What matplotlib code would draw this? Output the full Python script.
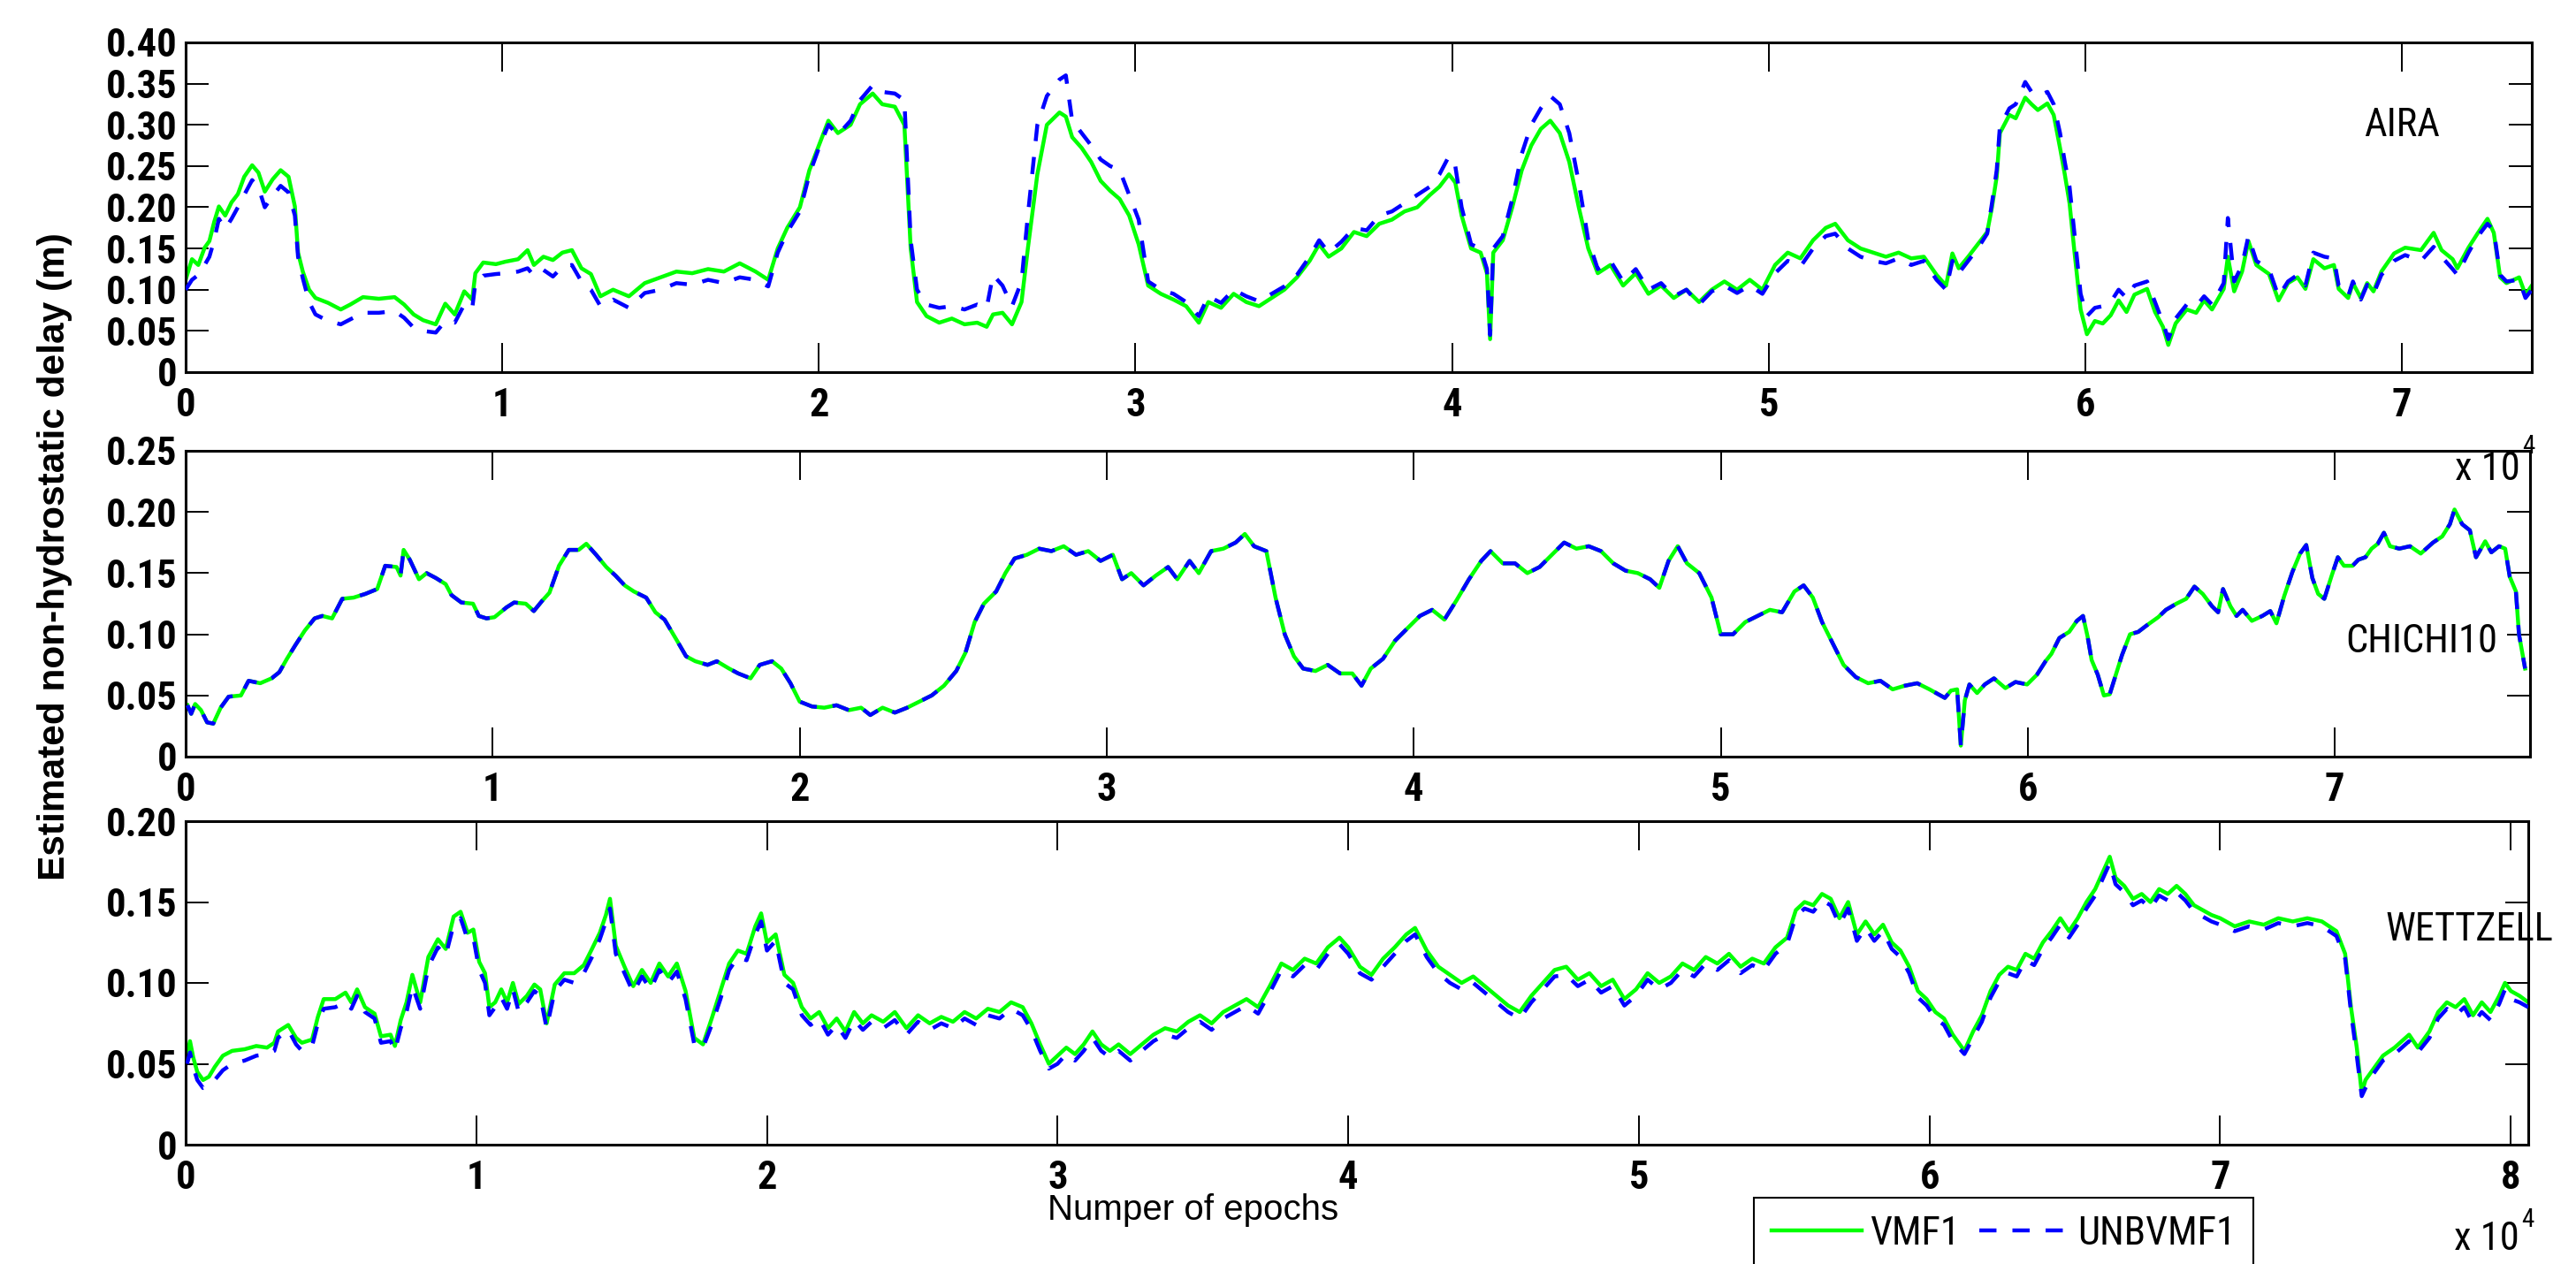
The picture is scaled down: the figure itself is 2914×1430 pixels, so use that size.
import os
import matplotlib
matplotlib.use("Agg")
import matplotlib.pyplot as plt
import matplotlib.font_manager as fm
from matplotlib.font_manager import FontProperties
from matplotlib.lines import Line2D


def find_narrow_font(bold=False):
    """Return the path of a narrow / condensed sans font if one is installed."""
    entries = fm.fontManager.ttflist
    want_w = 700 if bold else 400

    def wok(f):
        try:
            w = int(f.weight)
        except (TypeError, ValueError):
            w = 700 if 'bold' in str(f.weight).lower() else 400
        return abs(w - want_w) <= 100

    for fam in ['Liberation Sans Narrow', 'Arial Narrow', 'Nimbus Sans Narrow', 'Roboto Condensed',
                'Open Sans Condensed', 'Noto Sans Condensed', 'DejaVu Sans Condensed']:
        for f in entries:
            if f.name == fam and f.style == 'normal' and wok(f):
                return f.fname
    for fam in ['Noto Sans', 'Roboto', 'Open Sans', 'DejaVu Sans', 'Lato', 'Inter']:
        for f in entries:
            if f.name == fam and f.style == 'normal' and wok(f) and \
                    str(f.stretch) in ('condensed', 'semi-condensed', 'extra-condensed'):
                return f.fname
    for f in entries:
        b = os.path.basename(f.fname).lower()
        if ('narrow' in b or 'condensed' in b) and 'italic' not in b and 'oblique' not in b \
                and 'mono' not in b and 'serif' not in b and wok(f):
            return f.fname
    return None


NARROW_BOLD = find_narrow_font(bold=True)
NARROW_REG = find_narrow_font(bold=False)
NARROW_BOLD = NARROW_BOLD or NARROW_REG
NARROW_REG = NARROW_REG or NARROW_BOLD
plt.rcParams['font.family'] = ['Liberation Sans', 'DejaVu Sans']
plt.rcParams['lines.scale_dashes'] = False


def nfont(size, bold=False):
    path = NARROW_BOLD if bold else NARROW_REG
    if path:
        return FontProperties(fname=path, size=size)
    return FontProperties(family=['Liberation Sans', 'DejaVu Sans'], size=size,
                          weight='bold' if bold else 'normal')


# ---------------- data (x in units of 1e4 epochs, delay in m) ----------------
aira_x = [0.00, 0.02, 0.04, 0.06, 0.075, 0.09, 0.105, 0.125, 0.145, 0.165, 0.185, 0.21, 0.23, 0.25, 0.275,
          0.30, 0.325, 0.345, 0.355, 0.37, 0.39, 0.41, 0.45, 0.49, 0.52, 0.56, 0.61, 0.66, 0.69, 0.72, 0.75,
          0.79, 0.82, 0.85, 0.88, 0.905, 0.915, 0.94, 0.98, 1.01, 1.05, 1.08, 1.10, 1.13, 1.16, 1.19, 1.22,
          1.25, 1.28, 1.31, 1.35, 1.40, 1.45, 1.50, 1.55, 1.60, 1.65, 1.70, 1.75, 1.80, 1.84, 1.87, 1.90,
          1.94, 1.97, 2.00, 2.03, 2.06, 2.10, 2.13, 2.17, 2.20, 2.24, 2.27, 2.29, 2.31, 2.34, 2.38, 2.42,
          2.46, 2.50, 2.53, 2.55, 2.58, 2.61, 2.64, 2.66, 2.69, 2.72, 2.76, 2.78, 2.80, 2.83, 2.86, 2.89,
          2.92, 2.95, 2.98, 3.01, 3.04, 3.08, 3.12, 3.16, 3.20, 3.23, 3.27, 3.31, 3.35, 3.39, 3.43, 3.47,
          3.51, 3.55, 3.58, 3.61, 3.65, 3.69, 3.73, 3.77, 3.81, 3.85, 3.89, 3.93, 3.96, 3.99, 4.01, 4.03,
          4.06, 4.09, 4.11, 4.12, 4.13, 4.16, 4.19, 4.22, 4.25, 4.28, 4.31, 4.34, 4.37, 4.40, 4.43, 4.46,
          4.50, 4.54, 4.58, 4.62, 4.66, 4.70, 4.74, 4.78, 4.82, 4.86, 4.90, 4.94, 4.98, 5.02, 5.06, 5.10,
          5.14, 5.18, 5.21, 5.25, 5.29, 5.33, 5.37, 5.41, 5.45, 5.49, 5.53, 5.56, 5.58, 5.60, 5.63, 5.66,
          5.69, 5.705, 5.72, 5.73, 5.76, 5.78, 5.81, 5.83, 5.85, 5.88, 5.90, 5.92, 5.935, 5.95, 5.965,
          5.985, 6.005, 6.03, 6.055, 6.08, 6.105, 6.13, 6.155, 6.195, 6.22, 6.245, 6.262, 6.285, 6.32,
          6.35, 6.375, 6.40, 6.437, 6.45, 6.47, 6.495, 6.515, 6.54, 6.58, 6.61, 6.64, 6.67, 6.695, 6.72,
          6.755, 6.785, 6.80, 6.83, 6.845, 6.87, 6.89, 6.91, 6.935, 6.975, 7.01, 7.06, 7.10, 7.125, 7.16,
          7.175, 7.21, 7.24, 7.27, 7.29, 7.31, 7.33, 7.37, 7.39, 7.41]
aira_vmf1 = [0.112, 0.137, 0.130, 0.151, 0.159, 0.182, 0.201, 0.190, 0.206, 0.216, 0.237, 0.251, 0.242, 0.219,
             0.234, 0.245, 0.237, 0.201, 0.145, 0.122, 0.100, 0.090, 0.084, 0.076, 0.082, 0.091, 0.089, 0.091,
             0.082, 0.070, 0.063, 0.058, 0.083, 0.070, 0.098, 0.088, 0.120, 0.133, 0.131, 0.134, 0.137, 0.148,
             0.130, 0.140, 0.136, 0.145, 0.148, 0.126, 0.119, 0.092, 0.100, 0.092, 0.108, 0.115, 0.122, 0.120,
             0.125, 0.122, 0.132, 0.122, 0.112, 0.150, 0.175, 0.200, 0.245, 0.275, 0.305, 0.290, 0.300, 0.325,
             0.338, 0.325, 0.322, 0.300, 0.150, 0.085, 0.068, 0.060, 0.065, 0.058, 0.060, 0.055, 0.070, 0.072,
             0.058, 0.085, 0.150, 0.240, 0.300, 0.315, 0.310, 0.285, 0.272, 0.255, 0.232, 0.220, 0.210, 0.190,
             0.155, 0.105, 0.095, 0.088, 0.080, 0.060, 0.085, 0.078, 0.095, 0.085, 0.080, 0.090, 0.100, 0.115,
             0.135, 0.155, 0.140, 0.150, 0.170, 0.165, 0.180, 0.185, 0.195, 0.200, 0.215, 0.225, 0.240, 0.230,
             0.190, 0.150, 0.145, 0.120, 0.040, 0.145, 0.160, 0.200, 0.245, 0.275, 0.295, 0.305, 0.290, 0.255,
             0.200, 0.150, 0.120, 0.130, 0.105, 0.120, 0.095, 0.105, 0.090, 0.100, 0.085, 0.100, 0.110, 0.100,
             0.112, 0.100, 0.130, 0.145, 0.138, 0.160, 0.175, 0.180, 0.160, 0.150, 0.145, 0.140, 0.145, 0.138,
             0.140, 0.118, 0.105, 0.144, 0.126, 0.140, 0.155, 0.170, 0.200, 0.237, 0.290, 0.312, 0.308, 0.333,
             0.325, 0.318, 0.326, 0.312, 0.272, 0.240, 0.205, 0.148, 0.076, 0.046, 0.062, 0.059, 0.069, 0.087,
             0.073, 0.094, 0.101, 0.073, 0.055, 0.033, 0.059, 0.076, 0.072, 0.087, 0.076, 0.101, 0.140, 0.098,
             0.122, 0.159, 0.130, 0.119, 0.087, 0.108, 0.115, 0.101, 0.137, 0.126, 0.130, 0.101, 0.090, 0.108,
             0.090, 0.108, 0.098, 0.122, 0.144, 0.151, 0.148, 0.169, 0.148, 0.137, 0.126, 0.151, 0.169, 0.186,
             0.169, 0.115, 0.108, 0.115, 0.094, 0.105]
aira_unbvmf1 = [0.100, 0.112, 0.118, 0.130, 0.140, 0.160, 0.186, 0.174, 0.186, 0.200, 0.215, 0.233, 0.224, 0.200,
                0.214, 0.226, 0.218, 0.190, 0.140, 0.114, 0.085, 0.070, 0.062, 0.058, 0.064, 0.072, 0.072, 0.074,
                0.066, 0.054, 0.050, 0.048, 0.062, 0.060, 0.082, 0.077, 0.108, 0.117, 0.119, 0.120, 0.122, 0.126,
                0.117, 0.124, 0.116, 0.128, 0.130, 0.110, 0.100, 0.080, 0.088, 0.078, 0.096, 0.100, 0.108, 0.106,
                0.112, 0.108, 0.115, 0.112, 0.104, 0.145, 0.170, 0.195, 0.240, 0.272, 0.300, 0.288, 0.305, 0.330,
                0.348, 0.340, 0.338, 0.330, 0.160, 0.100, 0.082, 0.078, 0.080, 0.076, 0.082, 0.078, 0.118, 0.105,
                0.080, 0.110, 0.190, 0.300, 0.335, 0.355, 0.360, 0.305, 0.290, 0.275, 0.258, 0.250, 0.245, 0.215,
                0.185, 0.110, 0.100, 0.095, 0.085, 0.068, 0.092, 0.084, 0.100, 0.092, 0.086, 0.095, 0.104, 0.118,
                0.140, 0.160, 0.145, 0.158, 0.175, 0.172, 0.190, 0.195, 0.205, 0.215, 0.225, 0.240, 0.262, 0.250,
                0.200, 0.155, 0.150, 0.125, 0.045, 0.150, 0.165, 0.210, 0.265, 0.300, 0.320, 0.335, 0.325, 0.290,
                0.230, 0.160, 0.125, 0.135, 0.110, 0.125, 0.100, 0.108, 0.092, 0.100, 0.082, 0.098, 0.105, 0.096,
                0.105, 0.095, 0.120, 0.135, 0.128, 0.150, 0.165, 0.168, 0.150, 0.140, 0.135, 0.132, 0.138, 0.130,
                0.135, 0.112, 0.100, 0.135, 0.120, 0.135, 0.150, 0.168, 0.205, 0.245, 0.298, 0.320, 0.325, 0.352,
                0.340, 0.335, 0.340, 0.325, 0.290, 0.255, 0.225, 0.170, 0.095, 0.068, 0.078, 0.080, 0.085, 0.100,
                0.090, 0.105, 0.110, 0.085, 0.060, 0.040, 0.065, 0.082, 0.080, 0.092, 0.082, 0.108, 0.187, 0.110,
                0.130, 0.165, 0.135, 0.125, 0.092, 0.110, 0.118, 0.105, 0.145, 0.140, 0.138, 0.105, 0.092, 0.110,
                0.088, 0.106, 0.095, 0.118, 0.135, 0.142, 0.135, 0.152, 0.140, 0.125, 0.118, 0.145, 0.165, 0.180,
                0.172, 0.118, 0.110, 0.112, 0.090, 0.100]

chichi_x = [0.006, 0.018, 0.031, 0.05, 0.07, 0.09, 0.114, 0.14, 0.18, 0.205, 0.243, 0.28, 0.305, 0.33, 0.357,
            0.388, 0.42, 0.445, 0.477, 0.51, 0.547, 0.585, 0.624, 0.65, 0.687, 0.70, 0.71, 0.73, 0.76, 0.785,
            0.815, 0.847, 0.866, 0.898, 0.936, 0.955, 0.98, 1.006, 1.045, 1.07, 1.108, 1.134, 1.16, 1.185,
            1.216, 1.248, 1.28, 1.305, 1.337, 1.37, 1.40, 1.43, 1.46, 1.50, 1.53, 1.56, 1.60, 1.63, 1.66,
            1.70, 1.73, 1.77, 1.80, 1.84, 1.87, 1.91, 1.94, 1.97, 2.00, 2.04, 2.08, 2.12, 2.16, 2.20, 2.23,
            2.27, 2.31, 2.35, 2.39, 2.43, 2.47, 2.51, 2.54, 2.57, 2.60, 2.64, 2.67, 2.70, 2.74, 2.78, 2.82,
            2.86, 2.90, 2.94, 2.98, 3.02, 3.05, 3.08, 3.12, 3.16, 3.20, 3.23, 3.27, 3.30, 3.34, 3.38, 3.42,
            3.45, 3.48, 3.52, 3.55, 3.58, 3.61, 3.64, 3.68, 3.72, 3.76, 3.80, 3.83, 3.86, 3.90, 3.94, 3.98,
            4.02, 4.06, 4.10, 4.14, 4.18, 4.22, 4.25, 4.29, 4.33, 4.37, 4.41, 4.45, 4.49, 4.53, 4.57, 4.61,
            4.65, 4.69, 4.73, 4.77, 4.80, 4.83, 4.86, 4.89, 4.93, 4.97, 5.00, 5.04, 5.08, 5.12, 5.16, 5.20,
            5.24, 5.27, 5.30, 5.33, 5.37, 5.40, 5.44, 5.48, 5.52, 5.56, 5.60, 5.64, 5.68, 5.73, 5.75, 5.77,
            5.782, 5.795, 5.81, 5.835, 5.86, 5.89, 5.927, 5.96, 5.998, 6.03, 6.058, 6.077, 6.103, 6.135, 6.16,
            6.18, 6.195, 6.208, 6.228, 6.248, 6.267, 6.287, 6.307, 6.333, 6.36, 6.386, 6.425, 6.45, 6.484,
            6.516, 6.543, 6.57, 6.60, 6.62, 6.636, 6.66, 6.68, 6.70, 6.73, 6.764, 6.79, 6.81, 6.835, 6.862,
            6.887, 6.907, 6.927, 6.946, 6.966, 6.99, 7.01, 7.03, 7.058, 7.077, 7.10, 7.12, 7.14, 7.16, 7.18,
            7.21, 7.245, 7.28, 7.32, 7.35, 7.375, 7.39, 7.415, 7.44, 7.46, 7.49, 7.51, 7.535, 7.555, 7.57,
            7.59, 7.60, 7.62]
chichi_vmf1 = [0.042, 0.035, 0.043, 0.038, 0.028, 0.027, 0.040, 0.049, 0.050, 0.062, 0.060, 0.064, 0.069, 0.080,
               0.091, 0.103, 0.113, 0.115, 0.113, 0.129, 0.130, 0.133, 0.137, 0.156, 0.155, 0.148, 0.169, 0.161,
               0.145, 0.150, 0.146, 0.141, 0.132, 0.126, 0.125, 0.115, 0.113, 0.114, 0.122, 0.126, 0.125, 0.119,
               0.127, 0.134, 0.156, 0.169, 0.169, 0.174, 0.165, 0.155, 0.148, 0.140, 0.135, 0.130, 0.118, 0.112,
               0.095, 0.082, 0.078, 0.075, 0.078, 0.072, 0.068, 0.064, 0.075, 0.078, 0.072, 0.060, 0.045, 0.041,
               0.040, 0.042, 0.038, 0.040, 0.034, 0.040, 0.036, 0.040, 0.045, 0.050, 0.058, 0.070, 0.085, 0.110,
               0.125, 0.135, 0.150, 0.162, 0.165, 0.170, 0.168, 0.172, 0.165, 0.168, 0.160, 0.165, 0.145, 0.150,
               0.140, 0.148, 0.155, 0.145, 0.160, 0.150, 0.168, 0.170, 0.175, 0.182, 0.172, 0.168, 0.130, 0.100,
               0.082, 0.072, 0.070, 0.075, 0.068, 0.068, 0.058, 0.072, 0.080, 0.095, 0.105, 0.115, 0.120, 0.112,
               0.128, 0.145, 0.160, 0.168, 0.158, 0.158, 0.150, 0.155, 0.165, 0.175, 0.170, 0.172, 0.168, 0.158,
               0.152, 0.150, 0.145, 0.138, 0.160, 0.172, 0.158, 0.150, 0.130, 0.100, 0.100, 0.110, 0.115, 0.120,
               0.118, 0.135, 0.140, 0.130, 0.110, 0.090, 0.075, 0.065, 0.060, 0.062, 0.055, 0.058, 0.060, 0.055,
               0.048, 0.054, 0.055, 0.009, 0.046, 0.059, 0.052, 0.059, 0.064, 0.056, 0.061, 0.059, 0.067, 0.078,
               0.084, 0.097, 0.102, 0.111, 0.115, 0.098, 0.079, 0.067, 0.050, 0.051, 0.067, 0.083, 0.100, 0.102,
               0.107, 0.114, 0.120, 0.125, 0.129, 0.139, 0.133, 0.123, 0.118, 0.137, 0.123, 0.115, 0.120, 0.111,
               0.115, 0.119, 0.109, 0.131, 0.151, 0.166, 0.173, 0.146, 0.133, 0.129, 0.148, 0.163, 0.156, 0.156,
               0.161, 0.163, 0.170, 0.174, 0.183, 0.172, 0.170, 0.172, 0.166, 0.175, 0.180, 0.190, 0.202, 0.190,
               0.185, 0.163, 0.176, 0.167, 0.172, 0.170, 0.147, 0.135, 0.100, 0.072]
chichi_unbvmf1 = chichi_vmf1  # the two solutions coincide at CHICHI10

wtz_x = [0.005, 0.015, 0.026, 0.04, 0.06, 0.08, 0.10, 0.128, 0.16, 0.203, 0.243, 0.28, 0.305, 0.318, 0.353,
         0.38, 0.40, 0.435, 0.455, 0.475, 0.515, 0.55, 0.57, 0.59, 0.617, 0.65, 0.672, 0.705, 0.72, 0.74, 0.76,
         0.78, 0.807, 0.835, 0.868, 0.895, 0.922, 0.946, 0.97, 0.99, 1.01, 1.03, 1.045, 1.065, 1.086, 1.106,
         1.126, 1.146, 1.174, 1.20, 1.22, 1.242, 1.27, 1.303, 1.337, 1.37, 1.398, 1.425, 1.446, 1.46, 1.48,
         1.51, 1.54, 1.57, 1.60, 1.63, 1.66, 1.69, 1.72, 1.75, 1.78, 1.81, 1.84, 1.87, 1.90, 1.93, 1.96, 1.98,
         2.00, 2.03, 2.06, 2.09, 2.12, 2.15, 2.18, 2.21, 2.24, 2.27, 2.30, 2.33, 2.36, 2.40, 2.44, 2.48, 2.52,
         2.56, 2.60, 2.64, 2.68, 2.72, 2.76, 2.80, 2.84, 2.88, 2.91, 2.94, 2.97, 3.00, 3.03, 3.06, 3.09, 3.12,
         3.15, 3.18, 3.21, 3.25, 3.29, 3.33, 3.37, 3.41, 3.45, 3.49, 3.53, 3.57, 3.61, 3.65, 3.69, 3.73, 3.77,
         3.81, 3.85, 3.89, 3.93, 3.97, 4.00, 4.04, 4.08, 4.12, 4.16, 4.20, 4.23, 4.27, 4.31, 4.35, 4.39, 4.43,
         4.47, 4.51, 4.55, 4.59, 4.63, 4.67, 4.71, 4.75, 4.79, 4.83, 4.87, 4.91, 4.95, 4.99, 5.03, 5.07, 5.11,
         5.15, 5.19, 5.23, 5.27, 5.31, 5.35, 5.39, 5.43, 5.47, 5.51, 5.54, 5.57, 5.60, 5.63, 5.66, 5.69, 5.72,
         5.75, 5.78, 5.81, 5.84, 5.87, 5.90, 5.93, 5.96, 5.99, 6.02, 6.05, 6.08, 6.12, 6.15, 6.18, 6.21, 6.24,
         6.27, 6.30, 6.33, 6.36, 6.39, 6.42, 6.45, 6.48, 6.51, 6.54, 6.57, 6.60, 6.62, 6.64, 6.67, 6.70, 6.73,
         6.76, 6.79, 6.82, 6.85, 6.88, 6.91, 6.94, 6.97, 7.00, 7.05, 7.10, 7.15, 7.20, 7.25, 7.30, 7.35, 7.40,
         7.43, 7.45, 7.47, 7.487, 7.50, 7.52, 7.56, 7.60, 7.65, 7.68, 7.72, 7.75, 7.78, 7.81, 7.84, 7.87, 7.90,
         7.93, 7.96, 7.98, 8.00, 8.03, 8.06]
wtz_vmf1 = [0.056, 0.064, 0.054, 0.045, 0.040, 0.042, 0.048, 0.055, 0.058, 0.059, 0.061, 0.060, 0.063, 0.070,
            0.074, 0.066, 0.063, 0.065, 0.079, 0.090, 0.090, 0.094, 0.088, 0.096, 0.085, 0.081, 0.067, 0.068,
            0.061, 0.077, 0.088, 0.105, 0.088, 0.116, 0.127, 0.121, 0.141, 0.144, 0.131, 0.133, 0.113, 0.106,
            0.085, 0.088, 0.096, 0.088, 0.100, 0.087, 0.092, 0.099, 0.096, 0.075, 0.099, 0.106, 0.106, 0.111,
            0.121, 0.131, 0.142, 0.152, 0.123, 0.110, 0.098, 0.108, 0.100, 0.112, 0.104, 0.112, 0.095, 0.066,
            0.062, 0.078, 0.095, 0.112, 0.120, 0.118, 0.135, 0.143, 0.125, 0.130, 0.105, 0.100, 0.085, 0.078,
            0.082, 0.072, 0.078, 0.070, 0.082, 0.075, 0.080, 0.076, 0.082, 0.072, 0.080, 0.075, 0.079, 0.076,
            0.082, 0.078, 0.084, 0.082, 0.088, 0.085, 0.075, 0.062, 0.050, 0.055, 0.060, 0.056, 0.062, 0.070,
            0.062, 0.058, 0.062, 0.056, 0.062, 0.068, 0.072, 0.070, 0.076, 0.080, 0.075, 0.082, 0.086, 0.090,
            0.085, 0.098, 0.112, 0.108, 0.115, 0.112, 0.122, 0.128, 0.122, 0.110, 0.105, 0.115, 0.122, 0.130,
            0.134, 0.120, 0.110, 0.105, 0.100, 0.104, 0.098, 0.092, 0.086, 0.082, 0.092, 0.100, 0.108, 0.110,
            0.102, 0.106, 0.098, 0.102, 0.090, 0.096, 0.106, 0.100, 0.104, 0.112, 0.108, 0.116, 0.112, 0.118,
            0.110, 0.115, 0.112, 0.122, 0.128, 0.145, 0.150, 0.148, 0.155, 0.152, 0.140, 0.150, 0.130, 0.138,
            0.130, 0.136, 0.125, 0.120, 0.110, 0.095, 0.090, 0.082, 0.078, 0.068, 0.058, 0.070, 0.080, 0.095,
            0.105, 0.110, 0.108, 0.118, 0.115, 0.125, 0.132, 0.140, 0.132, 0.140, 0.150, 0.158, 0.170, 0.178,
            0.165, 0.160, 0.152, 0.155, 0.150, 0.158, 0.155, 0.160, 0.155, 0.148, 0.145, 0.142, 0.140, 0.135,
            0.138, 0.136, 0.140, 0.138, 0.140, 0.138, 0.132, 0.118, 0.085, 0.060, 0.032, 0.040, 0.045, 0.055,
            0.060, 0.068, 0.060, 0.070, 0.082, 0.088, 0.085, 0.090, 0.080, 0.088, 0.082, 0.092, 0.100, 0.095,
            0.092, 0.088]
wtz_unbvmf1 = [0.050, 0.057, 0.048, 0.040, 0.035, 0.036, 0.040, 0.046, 0.050, 0.052, 0.055, 0.056, 0.058, 0.066,
               0.071, 0.062, 0.058, 0.061, 0.075, 0.084, 0.085, 0.088, 0.084, 0.092, 0.082, 0.078, 0.063, 0.064,
               0.058, 0.072, 0.082, 0.098, 0.084, 0.110, 0.122, 0.117, 0.136, 0.140, 0.127, 0.128, 0.108, 0.100,
               0.080, 0.085, 0.091, 0.084, 0.096, 0.082, 0.088, 0.095, 0.092, 0.072, 0.095, 0.102, 0.100, 0.106,
               0.116, 0.127, 0.138, 0.146, 0.118, 0.106, 0.094, 0.104, 0.096, 0.108, 0.100, 0.107, 0.090, 0.062,
               0.060, 0.074, 0.090, 0.108, 0.116, 0.114, 0.130, 0.138, 0.120, 0.126, 0.100, 0.096, 0.080, 0.074,
               0.078, 0.068, 0.074, 0.066, 0.077, 0.071, 0.076, 0.072, 0.077, 0.068, 0.076, 0.071, 0.075, 0.072,
               0.078, 0.074, 0.080, 0.078, 0.084, 0.080, 0.071, 0.058, 0.047, 0.050, 0.056, 0.052, 0.058, 0.066,
               0.058, 0.054, 0.058, 0.052, 0.058, 0.064, 0.068, 0.066, 0.072, 0.076, 0.071, 0.078, 0.082, 0.086,
               0.081, 0.094, 0.108, 0.104, 0.111, 0.108, 0.118, 0.124, 0.118, 0.106, 0.102, 0.110, 0.118, 0.126,
               0.130, 0.116, 0.106, 0.100, 0.096, 0.100, 0.094, 0.088, 0.082, 0.078, 0.088, 0.096, 0.104, 0.105,
               0.098, 0.102, 0.094, 0.098, 0.086, 0.092, 0.102, 0.096, 0.100, 0.108, 0.104, 0.112, 0.108, 0.114,
               0.106, 0.111, 0.108, 0.118, 0.124, 0.141, 0.146, 0.144, 0.151, 0.148, 0.136, 0.146, 0.126, 0.134,
               0.126, 0.132, 0.121, 0.116, 0.106, 0.091, 0.086, 0.078, 0.074, 0.064, 0.056, 0.066, 0.076, 0.091,
               0.101, 0.106, 0.104, 0.114, 0.111, 0.121, 0.128, 0.136, 0.128, 0.136, 0.146, 0.154, 0.166, 0.174,
               0.161, 0.156, 0.148, 0.151, 0.146, 0.154, 0.151, 0.156, 0.151, 0.144, 0.141, 0.138, 0.136, 0.132,
               0.135, 0.133, 0.137, 0.135, 0.137, 0.135, 0.129, 0.115, 0.082, 0.055, 0.030, 0.035, 0.042, 0.052,
               0.056, 0.064, 0.057, 0.066, 0.078, 0.084, 0.080, 0.085, 0.075, 0.082, 0.077, 0.087, 0.096, 0.090,
               0.088, 0.085]

stations = ['AIRA', 'CHICHI10', 'WETTZELL']
series_labels = ['VMF1', 'UNBVMF1']
y_ticks = [[0, 0.05, 0.10, 0.15, 0.20, 0.25, 0.30, 0.35, 0.40],
           [0, 0.05, 0.10, 0.15, 0.20, 0.25],
           [0, 0.05, 0.10, 0.15, 0.20]]
x_ticks = [[0, 1, 2, 3, 4, 5, 6, 7], [0, 1, 2, 3, 4, 5, 6, 7], [0, 1, 2, 3, 4, 5, 6, 7, 8]]
x_limits = [7.41, 7.636, 8.06]
label_pos = [(6.88, 0.299), (7.034, 0.094), (7.57, 0.133)]

# ---------------- figure ----------------
W, H = 2914, 1430
fig = plt.figure(figsize=(W / 100, H / 100), dpi=100)
boxes = [(210, 48, 2864, 421), (210, 510, 2862, 856), (210, 929, 2860, 1295)]
data = [(aira_x, aira_vmf1, aira_unbvmf1), (chichi_x, chichi_vmf1, chichi_unbvmf1),
        (wtz_x, wtz_vmf1, wtz_unbvmf1)]
FS = 32
GREEN = '#00FF00'
BLUE = '#0000FF'
DASH = (14, 13)

for i, (l, t, r, b) in enumerate(boxes):
    ax = fig.add_axes([l / W, 1 - b / H, (r - l) / W, (b - t) / H])
    xs, g, u = data[i]
    ax.plot(xs, g, color=GREEN, lw=3.2, solid_joinstyle='round', zorder=2)
    ax.plot(xs, u, color=BLUE, lw=3.2, dashes=DASH, zorder=3)
    ax.set_xlim(0, x_limits[i])
    ax.set_ylim(0, y_ticks[i][-1])
    ax.set_yticks(y_ticks[i])
    ax.set_yticklabels(['0'] + ['%.2f' % v for v in y_ticks[i][1:]], fontproperties=nfont(FS, bold=True))
    ax.set_xticks(x_ticks[i])
    ax.set_xticklabels([str(v) for v in x_ticks[i]], fontproperties=nfont(FS, bold=True))
    ax.tick_params(axis='both', direction='in', top=True, right=True, width=1.4, colors='black')
    ax.tick_params(axis='x', length=24, pad=12)
    ax.tick_params(axis='y', length=19, pad=7)
    for sp in ax.spines.values():
        sp.set_linewidth(2.2)
    ax.text(label_pos[i][0], label_pos[i][1], stations[i], fontproperties=nfont(FS), ha='left', va='center')

# exponent labels (x 10^4)
fig.text(2851 / W, 1 - 531 / H, 'x 10', fontproperties=nfont(FS), ha='right', va='center')
fig.text(2853 / W, 1 - 505 / H, '4', fontproperties=nfont(21), ha='left', va='center')
fig.text(2850 / W, 1 - 1402 / H, 'x 10', fontproperties=nfont(FS), ha='right', va='center')
fig.text(2852 / W, 1 - 1380 / H, '4', fontproperties=nfont(21), ha='left', va='center')

fig.text(62 / W, 1 - 630 / H, 'Estimated non-hydrostatic delay (m)', rotation=90, fontsize=30.5,
         fontweight='bold', family=['Liberation Sans', 'DejaVu Sans'], ha='center', va='center')
fig.text(1350 / W, 1 - 1369 / H, 'Numper of epochs', fontsize=29, ha='center', va='center',
         family=['Liberation Sans', 'DejaVu Sans'])

handles = [Line2D([], [], color=GREEN, lw=3.2),
           Line2D([], [], color=BLUE, lw=3.2, dashes=DASH)]
leg = fig.legend(handles, series_labels, loc='upper left', bbox_to_anchor=(1984 / W, 1 - 1355 / H),
                 ncol=2, frameon=True, fancybox=False, edgecolor='black', framealpha=1,
                 borderpad=0.45, handlelength=2.3, handletextpad=0.2, columnspacing=0.5,
                 prop=nfont(FS), borderaxespad=0)
leg.get_frame().set_linewidth(1.5)

fig.savefig('out.png', dpi=100)
